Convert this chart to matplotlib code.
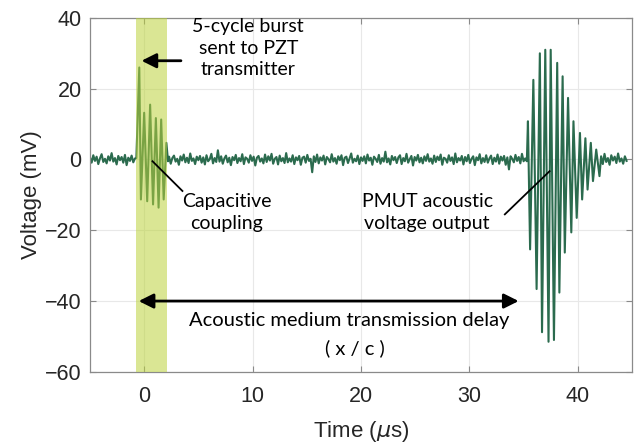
import numpy as np
import matplotlib
matplotlib.use("Agg")
from matplotlib import pyplot as plt

# --- data (time in us, voltage in mV) ---
noise_pre = [0.6, -0.9, 1.2, -0.4, 0.8, -1.3, 0.3, 1.5, -0.7, 0.2, -1.1, 0.9, -0.3, 1.8,
             -0.6, 0.4, -1.4, 1.0, -0.2, 0.7, -0.9, 1.3, -1.6, 0.5, -0.4, 1.1, -0.8, 0.3]

burst_t = [-0.72, -0.45, -0.3, 0.0, 0.28, 0.55, 0.82, 1.08, 1.33, 1.57, 1.8, 2.05, 2.2]
burst_v = [0.4, 26.0, -11.3, 13.2, -11.8, 15.5, -12.7, 11.7, -13.6, 11.3, -11.3, 4.7, -0.5]

noise_mid = [
    0.8, -1.2, 0.4, 1.1, -0.6, 0.2, -1.5, 0.9, -0.3, 1.4, -0.8, 0.5, -1.0, 1.7, -0.4, 0.3, -1.3, 0.8, -0.2, 1.0,
    -0.9, 0.6, -1.4, 1.2, -0.5, 0.1, 1.6, -1.1, 0.4, -0.7, 2.6, -0.6, 0.9, -1.2, 0.3, 1.1, -0.8, 0.5, -1.6, 0.7,
    -0.2, 1.3, -1.0, 0.4, -0.5, 1.5, -1.3, 0.6, 0.2, -0.9, 1.2, -0.4, 0.8, -1.7, 0.5, 1.0, -0.6, 0.3, -1.1, 1.4,
    -0.7, 0.9, -0.3, 1.6, -1.2, 0.2, 0.7, -1.4, 1.1, -0.5, 0.4, -1.0, 1.8, -0.8, 0.3, -0.6, 1.2, -1.3, 0.6, -0.2,
    1.0, -1.5, 0.5, 0.8, -0.9, 1.3, -0.4, 0.2, -3.6, 0.9, -0.7, 1.4, -1.1, 0.6, -0.3, 1.1, -1.4, 0.7, 0.1, -0.8,
    1.5, -0.6, 0.4, -1.2, 0.9, -0.2, 1.2, -1.6, 0.5, 0.8, -1.0, 0.3, 1.7, -0.9, 0.2, -0.5, 1.1, -1.3, 0.6, -0.4,
    0.9, -1.1, 1.4, -0.3, 0.5, -1.5, 0.8, 0.2, -0.7, 1.3, -1.2, 0.4, -0.6, 2.2, -0.8, 0.3, -1.4, 1.0, -0.2, 0.7,
    -1.0, 0.6, 1.2, -1.3, 0.4, -0.5, 1.6, -0.9, 0.1, 1.0, -1.7, 0.7, -0.3, 1.3, -0.8, 0.5, -1.1, 0.9, -0.4, 1.5,
    -0.6, 0.3, -1.2, 1.1, -0.7, 0.8, -0.2, 1.4, -1.5, 0.5, 0.2, -0.9, 1.2, -0.4, 0.6, -1.3, 1.7, -0.8, 0.4, -0.3,
    1.0, -1.4, 0.7, -0.5, 1.3, -1.0, 0.2, 0.9, -1.6, 0.6, -0.2, 1.5, -1.1, 0.4, -0.7, 1.2, -0.9, 0.3, 1.1, -1.3,
    0.5, -0.6, 1.4, -1.2, 0.8, -0.3, 1.0, -1.5, 0.6, -2.8, 0.9, 0.2, -0.8, 1.3, -0.4, 0.7, -1.1, 1.6, -0.5, 0.3,
]

pmut_t = [35.3, 35.4, 35.6, 35.9, 36.2, 36.5, 36.7, 37.0, 37.3, 37.5, 37.8, 38.1, 38.3, 38.6,
          38.8, 39.1, 39.4, 39.6, 39.9, 40.2, 40.4, 40.7, 40.9, 41.2, 41.4, 41.7, 42.0]
pmut_v = [-0.5, 10.8, -25.4, 22.5, -36.6, 30.0, -48.8, 31.0, -51.5, 31.0, -51.0, 27.3, -37.6, 23.5,
          -26.3, 17.4, -20.6, 10.8, -16.5, 7.5, -11.3, 6.0, -8.5, 4.7, -6.1, 2.8, -4.7]

noise_post = [0.9, -1.3, 1.6, -0.7, 0.4, -1.5, 1.2, -0.3, 0.8, -1.0, 1.7, -0.6, 0.3, -1.2, 0.9, -0.4]

band = (-0.75, 2.15)

t = np.concatenate([
    np.linspace(-5.0, -0.85, len(noise_pre)),
    burst_t,
    np.linspace(2.3, 35.15, len(noise_mid)),
    pmut_t,
    np.linspace(42.15, 44.5, len(noise_post)),
])
v = np.concatenate([noise_pre, burst_v, noise_mid, pmut_v, noise_post])

plt.rcParams['font.family'] = ['Liberation Sans', 'DejaVu Sans']
txtfont = ['Lato', 'DejaVu Sans']
dark = '#262626'

fig, ax = plt.subplots(figsize=(6.38, 4.48), dpi=100)
fig.subplots_adjust(left=0.141, right=0.9906, bottom=0.17, top=0.96)

ax.plot(t, v, color='#2b6b4e', lw=1.5, zorder=2)
ax.axvspan(band[0], band[1], color='#bcd33c', alpha=0.55, lw=0, zorder=3)

ax.set_xlim(-5, 45)
ax.set_ylim(-60, 40)
ax.set_xticks([0, 10, 20, 30, 40])
ax.set_yticks([-60, -40, -20, 0, 20, 40])
ax.grid(True, color='#e8e8e8', lw=0.8, zorder=0)
ax.set_axisbelow(True)
for s in ax.spines.values():
    s.set_color('#8a8a8a')
    s.set_linewidth(0.9)
ax.tick_params(direction='in', length=4, width=0.8, color='#8a8a8a',
               labelsize=15.5, labelcolor=dark, top=True, right=True)
ax.tick_params(axis='x', pad=10)
ax.tick_params(axis='y', pad=6)
ax.set_xlabel(r'Time ($\mu$s)', fontsize=16, color=dark, labelpad=9)
ax.set_ylabel('Voltage (mV)', fontsize=16, color=dark, labelpad=2)

# annotations
ax.annotate('', xy=(-0.5, 27.9), xytext=(3.65, 27.9),
            arrowprops=dict(arrowstyle='-|>', lw=2.0, color='k', mutation_scale=22), zorder=5)
ax.text(9.6, 31.5, '5-cycle burst\nsent to PZT\ntransmitter', ha='center', va='center',
        fontsize=14, family=txtfont, color='k', linespacing=1.3)

ax.plot([0.77, 3.53], [-0.5, -8.9], color='k', lw=1.3, zorder=5)
ax.text(7.6, -15.0, 'Capacitive\ncoupling', ha='center', va='center',
        fontsize=14, family=txtfont, color='k', linespacing=1.3)

ax.plot([33.27, 37.4], [-15.5, -3.3], color='k', lw=1.3, zorder=5)
ax.text(26.1, -15.0, 'PMUT acoustic\nvoltage output', ha='center', va='center',
        fontsize=14, family=txtfont, color='k', linespacing=1.3)

ax.annotate('', xy=(-0.76, -40), xytext=(34.8, -40),
            arrowprops=dict(arrowstyle='<|-|>', lw=2.0, color='k', mutation_scale=22), zorder=5)
ax.text(18.95, -45.6, 'Acoustic medium transmission delay', ha='center', va='center',
        fontsize=14.5, family=txtfont, color='k')
ax.text(19.4, -53.3, '( x / c )', ha='center', va='center',
        fontsize=14.5, family=txtfont, color='k')

fig.savefig('out.png', dpi=100)
